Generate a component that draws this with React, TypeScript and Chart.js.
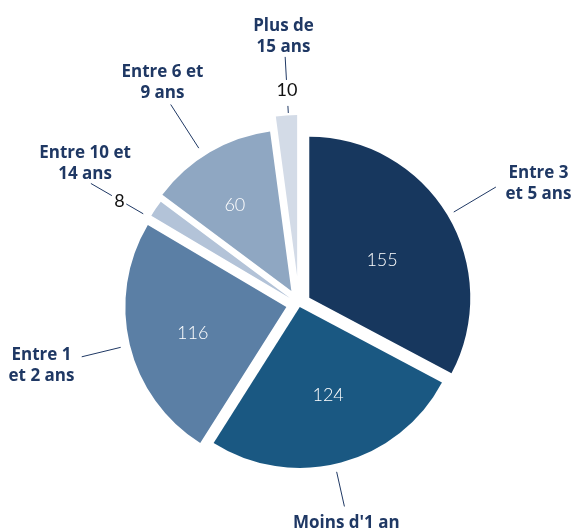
import React, { useEffect, useRef } from "react";
import { Chart, registerables } from "chart.js";

Chart.register(...registerables);

// ---- data ----
const categories = [
  "Entre 3\net 5 ans",
  "Moins d'1 an",
  "Entre 1\net 2 ans",
  "Entre 10 et\n14 ans",
  "Entre 6 et\n9 ans",
  "Plus de\n15 ans",
];
const values = [155, 124, 116, 8, 60, 10];

// ---- styles / layout ----
const sliceColors = ["#17375e", "#1a5882", "#5b7fa5", "#b3c3d8", "#8fa7c2", "#d3dbe7"];
const explode = [12, 3, 13, 11, 15, 28];
// value label placement: angle delta (deg, from slice mid) and radius from centre
const valueLayout = [
  { dA: 3.1, r: 94, inside: true },
  { dA: -2.9, r: 95.5, inside: true },
  { dA: -1.5, r: 110, inside: true },
  { dA: -3.8, r: 207, inside: false },
  { dA: -2.5, r: 118, inside: true },
  { dA: 0.6, r: 214.8, inside: false },
];
const leaderLayout = [
  { dA: 0.3, segs: [[180, 229]] },
  { dA: 2.2, segs: [[172, 207.5]] },
  { dA: -0.15, segs: [[183.5, 223.6]] },
  { dA: -3.6, segs: [[180, 199.6], [216.2, 240.5]] },
  { dA: -2.3, segs: [[185.3, 237.2]] },
  { dA: 0.6, segs: [[191.3, 198.4], [224.4, 247.5]] },
];
const labelLayout = [
  { dA: 4.1, r: 268.6 },
  { dA: 2.6, r: 223 },
  { dA: 0.3, r: 264.5 },
  { dA: -0.1, r: 256.8 },
  { dA: -1.1, r: 261 },
  { dA: 0.5, r: 269 },
];

const DEG = Math.PI / 180;
const TEXT_NAVY = "#1f3864";

const piePlugin = {
  id: "piePlugin",
  beforeDatasetDraw(chart: any, args: any) {
    const ctx = chart.ctx as CanvasRenderingContext2D;
    const meta = args.meta;
    const geo: { x: number; y: number; mid: number }[] = [];
    meta.data.forEach((arc: any, i: number) => {
      const p = arc.getProps(["x", "y", "startAngle", "endAngle"], true);
      const mid = (p.startAngle + p.endAngle) / 2;
      geo.push({ x: p.x, y: p.y, mid });
      ctx.save();
      ctx.translate(Math.cos(mid) * explode[i], Math.sin(mid) * explode[i]);
      arc.draw(ctx, chart.chartArea);
      ctx.restore();
    });

    const pt = (g: any, dA: number, r: number) => {
      const a = g.mid + dA * DEG;
      return [g.x + Math.cos(a) * r, g.y + Math.sin(a) * r];
    };

    // leader lines
    ctx.save();
    ctx.strokeStyle = TEXT_NAVY;
    ctx.lineWidth = 1;
    geo.forEach((g, i) => {
      const L = leaderLayout[i];
      L.segs.forEach(([r0, r1]) => {
        const [x0, y0] = pt(g, L.dA, r0);
        const [x1, y1] = pt(g, L.dA, r1);
        ctx.beginPath();
        ctx.moveTo(x0, y0);
        ctx.lineTo(x1, y1);
        ctx.stroke();
      });
    });
    ctx.restore();

    // value labels
    ctx.save();
    ctx.textAlign = "center";
    ctx.textBaseline = "alphabetic";
    const vSize = 18;
    geo.forEach((g, i) => {
      const V = valueLayout[i];
      const [x, y] = pt(g, V.dA, V.r);
      ctx.font = V.inside ? `300 ${vSize}px Lato` : `400 ${vSize}px Lato`;
      ctx.fillStyle = V.inside ? "#ffffff" : "#111111";
      ctx.fillText(String(values[i]), x, y + vSize * 0.36);
    });
    ctx.restore();

    // category labels
    ctx.save();
    ctx.textAlign = "center";
    ctx.textBaseline = "alphabetic";
    const cSize = 17;
    const lh = 21;
    ctx.font = `bold ${cSize}px "Open Sans"`;
    ctx.fillStyle = TEXT_NAVY;
    geo.forEach((g, i) => {
      const Lb = labelLayout[i];
      const [x, y] = pt(g, Lb.dA, Lb.r);
      const lines = categories[i].split("\n");
      const y0 = y - ((lines.length - 1) * lh) / 2;
      lines.forEach((t, k) => {
        ctx.fillText(t, x, y0 + k * lh + cSize * 0.36);
      });
    });
    ctx.restore();
    return false;
  },
};

export default function App() {
  const ref = useRef<HTMLCanvasElement | null>(null);
  useEffect(() => {
    if (!ref.current) return;
    const chart = new Chart(ref.current, {
      type: "pie",
      data: {
        labels: categories.map((c) => c.replace("\n", " ")),
        datasets: [
          {
            data: values,
            backgroundColor: sliceColors,
            borderWidth: 0,
            radius: 161,
          } as any,
        ],
      },
      options: {
        responsive: false,
        animation: false,
        events: [],
        layout: { padding: { left: 23, top: 78, right: 0, bottom: 0 } },
        plugins: { legend: { display: false }, tooltip: { enabled: false } },
      },
      plugins: [piePlugin],
    });
    return () => chart.destroy();
  }, []);
  return (
    <div style={{ position: "absolute", left: 0, top: 0, width: 575, height: 530, background: "#fff" }}>
      <canvas ref={ref} width={575} height={530} style={{ display: "block", width: 575, height: 530 }} />
    </div>
  );
}
